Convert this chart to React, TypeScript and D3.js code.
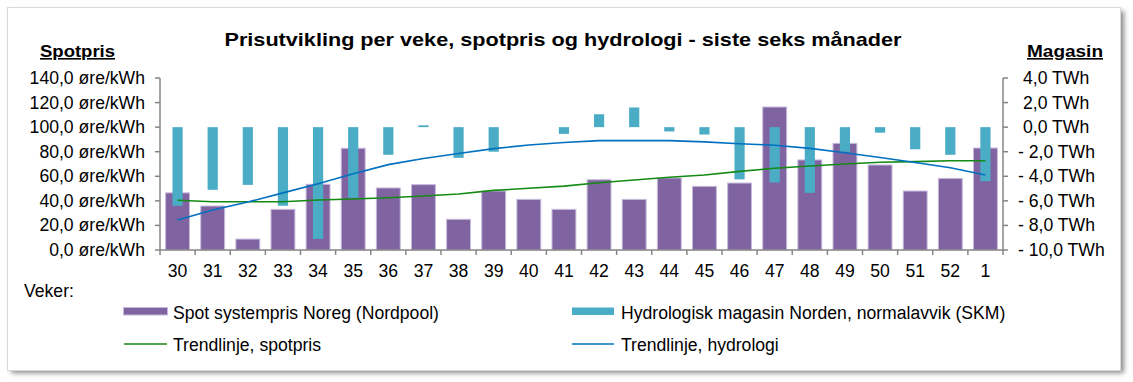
import React from "react";
import * as d3 from "d3";

const weeks = ["30","31","32","33","34","35","36","37","38","39","40","41","42","43","44","45","46","47","48","49","50","51","52","1"];
const spotPrice = [46.5, 35.8, 8.9, 33.1, 53.5, 82.8, 50.5, 53.2, 25.0, 48.0, 41.2, 33.1, 57.2, 41.2, 58.6, 51.8, 54.5, 116.4, 73.3, 86.8, 69.2, 48.0, 58.3, 83.0];
const hydroDev = [-6.4, -5.1, -4.7, -6.4, -9.1, -5.75, -2.25, 0.15, -2.5, -2.0, 0, -0.55, 1.05, 1.6, -0.35, -0.6, -4.25, -4.5, -5.35, -2.0, -0.45, -1.8, -2.25, -4.4];
const spotTrend = [40.5, 39.3, 39.3, 39.3, 40.7, 41.5, 42.5, 44.0, 45.6, 48.5, 50.2, 52.0, 54.8, 57.0, 59.2, 61.0, 64.0, 66.5, 68.4, 70.0, 71.4, 71.9, 72.6, 72.7];
const hydroTrend = [-7.55, -6.75, -6.1, -5.35, -4.6, -3.8, -3.05, -2.55, -2.15, -1.75, -1.45, -1.25, -1.1, -1.1, -1.1, -1.2, -1.35, -1.47, -1.73, -2.09, -2.47, -2.88, -3.31, -3.9];
const leftTicks = [0, 20, 40, 60, 80, 100, 120, 140];
const rightTicks = [4, 2, 0, -2, -4, -6, -8, -10];

const title = "Prisutvikling per veke, spotpris og hydrologi - siste seks månader";
const legendItems = ["Spot systempris Noreg (Nordpool)", "Hydrologisk magasin Norden, normalavvik (SKM)", "Trendlinje, spotpris", "Trendlinje, hydrologi"];

const PURPLE = "#8064A2";
const TEAL = "#4BACC6";
const GREEN = "#138a13";
const BLUE = "#0070C0";
const AXIS = "#868686";
const FONT = "'Liberation Sans', Arial, sans-serif";
const FS = 17.6;

export default function App() {
  const W = 1133, H = 382;
  const x = d3.scaleBand<string>().domain(weeks).range([160, 1003]).padding(0);
  const yL = d3.scaleLinear().domain([0, 140]).range([250, 78]);
  const yR = d3.scaleLinear().domain([-10, 4]).range([250, 78]);
  const step = x.bandwidth();
  const cx = (w: string) => (x(w) as number) + step / 2;
  const purpleW = step * 0.68;
  const tealW = step * 0.29;

  const fmt = (v: number) => d3.format(".1f")(Math.abs(v)).replace(".", ",");

  const spotLine = d3.line<number>().x((_, i) => cx(weeks[i])).y((d) => yL(d));
  const hydroLine = d3.line<number>().x((_, i) => cx(weeks[i])).y((d) => yR(d));

  return (
    <div style={{ position: "fixed", left: 0, top: 0 }}>
      <svg width={W} height={H} style={{ display: "block", fontFamily: FONT }}>
        <defs>
          <filter id="sh" x="-5%" y="-5%" width="110%" height="110%">
            <feGaussianBlur stdDeviation="2.5" />
          </filter>
        </defs>
        <rect x={0} y={0} width={W} height={H} fill="#fff" />
        <rect x={11} y={11} width={1113} height={362} fill="#8a8a8a" filter="url(#sh)" />
        <rect x={7.5} y={7.5} width={1113} height={363} fill="#fff" stroke="#d9d9d9" />

        <text x={563} y={46} textAnchor="middle" fontSize={19} fontWeight="bold" textLength={677} lengthAdjust="spacingAndGlyphs">{title}</text>

        <text x={40} y={57} fontSize={16} fontWeight="bold" textDecoration="underline" textLength={75} lengthAdjust="spacingAndGlyphs">Spotpris</text>
        <text x={1027} y={57} fontSize={16} fontWeight="bold" textDecoration="underline" textLength={76} lengthAdjust="spacingAndGlyphs">Magasin</text>

        {/* left axis */}
        <line x1={160} x2={160} y1={yL(140)} y2={yL(0)} stroke={AXIS} strokeWidth={1.5} />
        {leftTicks.map((t) => (
          <g key={"l" + t}>
            <line x1={155} x2={160} y1={yL(t)} y2={yL(t)} stroke={AXIS} strokeWidth={1.5} />
            <text x={145} y={yL(t) + 6} textAnchor="end" fontSize={FS}>{fmt(t) + " øre/kWh"}</text>
          </g>
        ))}

        {/* right axis */}
        <line x1={1003} x2={1003} y1={yR(4)} y2={yR(-10)} stroke={AXIS} strokeWidth={1.5} />
        {rightTicks.map((t) => (
          <g key={"r" + t}>
            <line x1={1003} x2={1008} y1={yR(t)} y2={yR(t)} stroke={AXIS} strokeWidth={1.5} />
            <text x={t < 0 ? 1018 : 1023} y={yR(t) + 6} fontSize={FS}>{(t < 0 ? "- " : "") + fmt(t) + " TWh"}</text>
          </g>
        ))}

        {/* bars: spot price */}
        {weeks.map((w, i) => (
          <rect key={"p" + w} x={cx(w) - purpleW / 2} y={yL(spotPrice[i])} width={purpleW} height={yL(0) - yL(spotPrice[i])} fill={PURPLE} stroke="#c6badb" strokeWidth={1} />
        ))}
        {/* bars: hydrology */}
        {weeks.map((w, i) => {
          const v = hydroDev[i];
          if (v === 0) return null;
          const y0 = yR(0), y1 = yR(v);
          return <rect key={"h" + w} x={cx(w) - tealW / 2} y={Math.min(y0, y1)} width={tealW} height={Math.abs(y1 - y0)} fill={TEAL} />;
        })}

        {/* x axis */}
        <line x1={160} x2={1003} y1={250} y2={250} stroke={AXIS} strokeWidth={1.5} />
        {weeks.map((w) => (
          <line key={"t" + w} x1={x(w) as number} x2={x(w) as number} y1={250} y2={255} stroke={AXIS} strokeWidth={1.5} />
        ))}
        <line x1={1003} x2={1003} y1={250} y2={255} stroke={AXIS} strokeWidth={1.5} />
        {weeks.map((w) => (
          <text key={"xl" + w} x={cx(w)} y={277} textAnchor="middle" fontSize={FS}>{w}</text>
        ))}

        {/* trend lines */}
        <path d={spotLine(spotTrend) || ""} fill="none" stroke={GREEN} strokeWidth={1.6} />
        <path d={hydroLine(hydroTrend) || ""} fill="none" stroke={BLUE} strokeWidth={1.6} />

        {/* legend */}
        <text x={24} y={297} fontSize={FS}>Veker:</text>
        <rect x={123.5} y={307.5} width={44} height={7.5} fill={PURPLE} stroke="#c6badb" strokeWidth={1} />
        <text x={173} y={318.5} fontSize={FS}>{legendItems[0]}</text>
        <rect x={572} y={307.5} width={42} height={7.5} fill={TEAL} />
        <text x={621} y={318.5} fontSize={FS}>{legendItems[1]}</text>
        <line x1={124} x2={167} y1={344} y2={344} stroke={GREEN} strokeWidth={1.6} />
        <text x={173} y={351} fontSize={FS}>{legendItems[2]}</text>
        <line x1={572} x2={614} y1={344} y2={344} stroke={BLUE} strokeWidth={1.6} />
        <text x={621} y={351} fontSize={FS}>{legendItems[3]}</text>
      </svg>
    </div>
  );
}
